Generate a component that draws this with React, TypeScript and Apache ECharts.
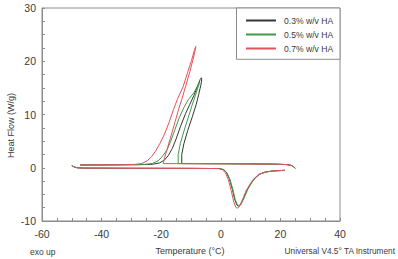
import React, { useEffect, useRef } from "react";
import * as echarts from "echarts";

const sampleNames = ["0.3% w/v HA", "0.5% w/v HA", "0.7% w/v HA"];
const sampleColors = ["#363636", "#3f9b47", "#e4525a"];

const xMin = -60, xMax = 40, xStep = 20;
const yMin = -10, yMax = 30, yStep = 10;

// [temperature °C, heat flow W/g]
const cool03: number[][] = [
  [25.0, -0.1], [24.4, 0.2], [23.6, 0.45], [22.0, 0.6], [18, 0.68], [10, 0.72], [0, 0.75], [-8, 0.77],
  [-13.1, 0.78], [-13.1, 2.5], [-12.4, 4.5], [-11.1, 7.0], [-9.6, 9.5], [-8.3, 11.8], [-7.4, 13.8],
  [-6.7, 15.5], [-6.4, 16.5], [-6.5, 16.9], [-6.9, 16.6], [-7.8, 15.3], [-9.0, 13.6], [-10.4, 11.9],
  [-11.8, 10.2], [-13.5, 7.8], [-15.0, 5.4], [-16.3, 3.6], [-17.6, 2.3], [-19.0, 1.4], [-20.6, 0.9],
  [-23, 0.65], [-28, 0.57], [-38, 0.53], [-47.2, 0.52],
];
const heat03: number[][] = [
  [-50, 0.4], [-49.2, 0.15], [-48.2, 0.0], [-46, -0.07], [-30, -0.1], [-10, -0.12], [-0.5, -0.15],
  [0.9, -0.35], [1.9, -0.9], [2.9, -2.1], [3.9, -4.1], [4.7, -6.0], [5.4, -7.0], [5.9, -7.25],
  [6.6, -7.0], [7.6, -5.8], [8.9, -4.1], [10.4, -2.7], [11.5, -1.9], [13, -1.2], [15, -0.8],
  [17.5, -0.6], [21.5, -0.48],
];
const cool05: number[][] = [
  [25.0, -0.1], [24.4, 0.2], [23.6, 0.45], [22.0, 0.6], [18, 0.68], [10, 0.72], [0, 0.75], [-8, 0.77],
  [-14.3, 0.78], [-14.3, 2.5], [-13.6, 4.5], [-12.3, 7.0], [-10.9, 9.5], [-9.6, 11.8], [-8.6, 13.5],
  [-7.7, 15.0], [-7.2, 15.8], [-7.2, 16.1], [-7.7, 15.5], [-9.0, 14.1], [-10.9, 12.8], [-12.4, 11.3],
  [-14.0, 9.3], [-15.5, 7.0], [-16.8, 5.0], [-18.0, 3.4], [-19.5, 2.2], [-21.0, 1.3], [-23.0, 0.8],
  [-26, 0.6], [-35, 0.55], [-47.2, 0.52],
];
const heat05: number[][] = [
  [-50, 0.4], [-49.2, 0.15], [-48.2, 0.0], [-46, -0.07], [-30, -0.1], [-10, -0.12], [-0.5, -0.15],
  [1.0, -0.35], [2.0, -0.9], [3.0, -2.1], [4.0, -4.0], [4.8, -5.9], [5.5, -6.9], [6.0, -7.1],
  [6.7, -6.9], [7.7, -5.8], [9.0, -4.1], [10.5, -2.7], [11.6, -1.9], [13.1, -1.2], [15, -0.8],
  [17.5, -0.6], [21.5, -0.48],
];
const cool07: number[][] = [
  [25.0, -0.1], [24.4, 0.2], [23.6, 0.45], [22.0, 0.6], [18, 0.68], [10, 0.72], [0, 0.75], [-10, 0.77],
  [-19.3, 0.78], [-19.0, 1.6], [-18.0, 3.5], [-16.7, 6.0], [-15.3, 8.7], [-14.2, 10.9], [-13.1, 12.8],
  [-11.8, 15.3], [-10.4, 18.0], [-9.2, 20.6], [-8.5, 22.3], [-8.4, 22.8], [-8.8, 22.2], [-9.8, 20.2],
  [-11.2, 17.8], [-12.6, 15.3], [-14.6, 12.8], [-15.9, 10.9], [-17.3, 8.6], [-18.9, 6.3], [-20.4, 4.6],
  [-21.8, 3.2], [-23.2, 2.1], [-24.7, 1.3], [-26.5, 0.8], [-29, 0.62], [-36, 0.55], [-47.2, 0.52],
];
const heat07: number[][] = [
  [-50, 0.4], [-49.2, 0.15], [-48.2, 0.0], [-46, -0.07], [-30, -0.1], [-10, -0.12], [-0.8, -0.15],
  [0.5, -0.35], [1.5, -0.9], [2.5, -2.2], [3.5, -4.3], [4.3, -6.3], [5.0, -7.4], [5.5, -7.6],
  [6.2, -7.3], [7.2, -6.1], [8.5, -4.3], [10, -2.9], [11.2, -2.0], [12.7, -1.3], [14.7, -0.85],
  [17.2, -0.62], [21.5, -0.48],
];

const segments = [
  [cool03, heat03],
  [cool05, heat05],
  [cool07, heat07],
];

const FONT = "'Liberation Sans', Arial, sans-serif";
const TEXT = "#3a3a3a";
const AXIS = "#8c8c8c";

export default function App() {
  const ref = useRef<HTMLDivElement>(null);
  useEffect(() => {
    if (!ref.current) return;
    const chart = echarts.init(ref.current, undefined, { renderer: "svg" });
    const series: any[] = [];
    segments.forEach((segs, i) => {
      segs.forEach((d) => {
        series.push({
          type: "line",
          name: sampleNames[i],
          data: d,
          showSymbol: false,
          symbol: "none",
          color: sampleColors[i],
          lineStyle: { width: 1, color: sampleColors[i] },
          z: 2 + i,
        });
      });
    });
    chart.setOption({
      animation: false,
      backgroundColor: "#ffffff",
      textStyle: { fontFamily: FONT },
      grid: {
        left: 42, top: 8, width: 298, height: 213,
        show: true, borderColor: AXIS, borderWidth: 1, backgroundColor: "transparent",
      },
      xAxis: {
        type: "value", min: xMin, max: xMax, interval: xStep,
        axisLine: { show: true, onZero: false, lineStyle: { color: AXIS, width: 1 } },
        axisTick: { show: true, inside: true, length: 3, lineStyle: { color: AXIS } },
        minorTick: { show: true, splitNumber: 4, length: 3, lineStyle: { color: AXIS } },
        splitLine: { show: false },
        axisLabel: { color: TEXT, fontSize: 10.5, margin: 7, fontFamily: FONT },
      },
      yAxis: {
        type: "value", min: yMin, max: yMax, interval: yStep,
        axisLine: { show: true, onZero: false, lineStyle: { color: AXIS, width: 1 } },
        axisTick: { show: true, inside: true, length: 3, lineStyle: { color: AXIS } },
        minorTick: { show: true, splitNumber: 4, length: 3, lineStyle: { color: AXIS } },
        splitLine: { show: false },
        axisLabel: { color: TEXT, fontSize: 10.5, margin: 6, fontFamily: FONT },
      },
      legend: {
        data: sampleNames,
        orient: "vertical",
        left: 237, top: 8,
        padding: [7, 8, 6, 9],
        itemWidth: 30, itemHeight: 2, itemGap: 3,
        icon: "rect",
        z: 10,
        textStyle: { color: TEXT, fontSize: 8.6, fontFamily: FONT, padding: [0, 0, 0, 3], lineHeight: 11 },
      },
      graphic: [
        {
          type: "rect", z: 5,
          shape: { x: 236.5, y: 8, width: 103.5, height: 51.3 },
          style: { fill: "#ffffff", stroke: AXIS, lineWidth: 1 },
        },
        {
          type: "text", x: 190, y: 251,
          style: { text: "Temperature (°C)", fill: TEXT, font: `9px ${FONT}`, align: "center", verticalAlign: "middle" },
        },
        {
          type: "text", x: 30, y: 251.5,
          style: { text: "exo up", fill: TEXT, font: `8.5px ${FONT}`, align: "left", verticalAlign: "middle" },
        },
        {
          type: "text", x: 395, y: 251,
          style: { text: "Universal V4.5° TA Instrument", fill: TEXT, font: `8.3px ${FONT}`, align: "right", verticalAlign: "middle" },
        },
        {
          type: "text", x: 10.5, y: 125.5, rotation: Math.PI / 2,
          style: { text: "Heat Flow (W/g)", fill: TEXT, font: `9px ${FONT}`, align: "center", verticalAlign: "middle" },
        },
      ],
      series,
    });
    return () => chart.dispose();
  }, []);
  return <div ref={ref} style={{ position: "fixed", left: 0, top: 0, width: 398, height: 259, background: "#fff" }} />;
}
